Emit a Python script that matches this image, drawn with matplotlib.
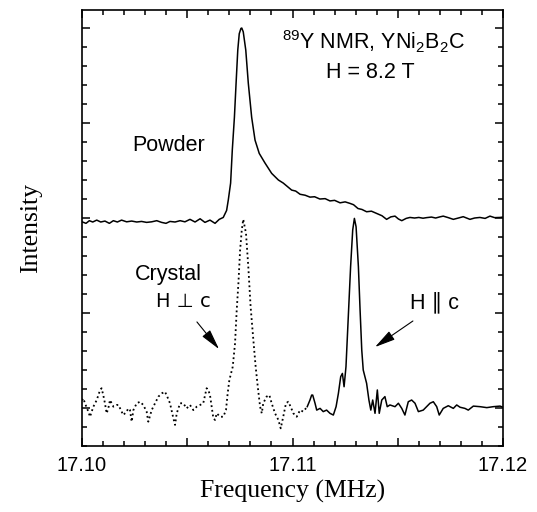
import numpy as np
import matplotlib
matplotlib.use("Agg")
import matplotlib.pyplot as plt
from matplotlib.ticker import MultipleLocator, FixedLocator

# 89Y NMR spectra, YNi2B2C, H = 8.2 T
# frequency offsets in kHz above 17.100 MHz, intensity in arbitrary units
powder_khz = [0.0, 0.19, 0.35, 0.51, 0.70, 0.89, 1.09, 1.30, 1.49, 1.68, 1.88, 2.12,
              2.36, 2.60, 2.83, 3.07, 3.31, 3.55, 3.78, 3.99, 4.18, 4.42, 4.66, 4.89,
              5.13, 5.37, 5.61, 5.84, 6.08, 6.32, 6.52, 6.71, 6.87, 6.95, 7.06, 7.14,
              7.24, 7.32, 7.40, 7.47, 7.55, 7.59, 7.66, 7.78, 7.90, 8.06, 8.22, 8.42,
              8.69, 9.01, 9.33, 9.56, 9.96, 10.15, 10.36, 10.6, 10.83, 11.05, 11.3, 11.55,
              11.78, 12.0, 12.26, 12.5, 12.73, 12.9, 13.11, 13.3, 13.52, 13.75, 14.0, 14.25,
              14.47, 14.67, 14.87, 15.03, 15.19, 15.4, 15.58, 15.8, 16.0, 16.2, 16.37, 16.6,
              16.8, 17.0, 17.16, 17.4, 17.64, 17.88, 18.11, 18.27, 18.43, 18.65, 18.90, 19.15,
              19.38, 19.6, 19.86, 20.0]
powder_int = [11.8, 11.72, 11.86, 11.79, 11.89, 11.79, 11.84, 11.72, 11.86, 11.79, 11.89, 11.80,
              11.84, 11.79, 11.82, 11.77, 11.80, 11.86, 11.77, 11.72, 11.82, 11.79, 11.86, 11.80,
              11.93, 11.79, 11.96, 11.77, 11.89, 11.72, 11.93, 12.03, 12.4, 12.95, 13.84, 15.58,
              17.3, 19.1, 20.84, 21.7, 21.98, 22.0, 21.8, 20.84, 19.1, 17.3, 16.1, 15.4,
              14.9, 14.35, 14.0, 13.84, 13.47, 13.42, 13.25, 13.2, 13.1, 13.12, 13.0, 13.02,
              12.9, 12.93, 12.8, 12.85, 12.77, 12.7, 12.5, 12.45, 12.33, 12.36, 12.24, 12.12,
              11.93, 12.06, 12.1, 11.95, 11.86, 11.98, 12.03, 12.0, 12.03, 11.99, 12.02, 12.05,
              12.0, 12.06, 12.1, 12.02, 11.93, 12.0, 12.07, 12.0, 11.93, 12.0, 12.03, 11.98,
              12.1, 12.02, 12.03, 12.05]

# single crystal, H perpendicular to c (dotted)
perp_khz = [0.0, 0.063, 0.14, 0.30, 0.38, 0.54, 0.70, 0.86, 0.93, 1.01, 1.09, 1.17,
            1.25, 1.33, 1.49, 1.65, 1.73, 1.81, 1.96, 2.12, 2.20, 2.28, 2.36, 2.44,
            2.60, 2.76, 2.91, 3.07, 3.15, 3.31, 3.47, 3.63, 3.79, 3.94, 4.05, 4.18,
            4.34, 4.42, 4.50, 4.66, 4.81, 4.97, 5.13, 5.29, 5.45, 5.61, 5.76, 5.92,
            6.00, 6.08, 6.16, 6.24, 6.32, 6.40, 6.56, 6.71, 6.84, 6.92, 7.0, 7.16,
            7.27, 7.35, 7.43, 7.51, 7.59, 7.66, 7.79, 7.90, 8.01, 8.14, 8.25, 8.35,
            8.46, 8.54, 8.61, 8.77, 8.9, 9.01, 9.17, 9.33, 9.44, 9.56, 9.69, 9.8,
            9.91, 10.04, 10.2, 10.36, 10.51, 10.7]
perp_int = [2.4, 2.51, 2.25, 1.81, 1.54, 2.07, 2.42, 2.95, 3.04, 2.68, 2.25, 1.72,
            1.98, 2.42, 2.07, 2.16, 2.16, 1.98, 1.63, 1.81, 1.98, 1.89, 1.28, 1.89,
            2.25, 2.33, 2.16, 1.81, 1.28, 1.89, 2.25, 2.6, 2.77, 2.86, 2.6, 2.25,
            1.46, 1.11, 1.72, 2.25, 2.25, 1.98, 2.16, 1.89, 2.07, 2.16, 2.25, 3.04,
            2.95, 2.68, 2.07, 1.46, 1.37, 1.72, 1.54, 1.54, 1.89, 2.77, 3.47, 4.17,
            5.4, 7.16, 8.56, 10.3, 11.37, 11.93, 11.2, 9.44, 7.33, 5.58, 4.17, 3.12,
            2.07, 1.72, 2.25, 2.6, 2.68, 2.25, 1.72, 1.37, 0.93, 1.54, 2.25, 2.33,
            2.07, 1.72, 1.54, 1.89, 1.81, 2.07]

# single crystal, H parallel to c (solid)
par_khz = [10.7, 10.83, 10.91, 10.96, 11.07, 11.15, 11.31, 11.46, 11.62, 11.78, 11.94, 12.07,
           12.18, 12.29, 12.37, 12.45, 12.54, 12.65, 12.76, 12.86, 12.94, 13.02, 13.13, 13.21,
           13.29, 13.36, 13.52, 13.63, 13.72, 13.81, 13.92, 14.03, 14.12, 14.24, 14.39, 14.5,
           14.63, 14.87, 15.03, 15.19, 15.34, 15.5, 15.66, 15.82, 15.98, 16.21, 16.37, 16.53,
           16.69, 16.85, 16.97, 17.16, 17.4, 17.64, 17.8, 17.96, 18.19, 18.35, 18.59, 18.91,
           19.23, 19.54, 19.86, 20.0]
par_int = [2.07, 2.42, 2.68, 2.68, 2.25, 1.89, 1.98, 1.81, 1.89, 1.72, 1.63, 2.07,
           2.77, 3.65, 3.82, 3.12, 4.17, 6.8, 9.44, 11.37, 11.98, 11.54, 9.44, 7.16,
           5.05, 4.0, 3.3, 2.42, 1.89, 2.42, 1.72, 2.95, 1.72, 2.42, 2.6, 2.07,
           2.16, 2.07, 2.25, 1.98, 1.63, 2.33, 2.42, 2.25, 1.81, 1.89, 2.07, 2.25,
           2.33, 2.07, 1.63, 1.98, 2.12, 1.98, 2.16, 2.04, 1.98, 1.89, 2.1, 2.07,
           2.02, 2.07, 2.1, 2.04]

f0 = 17.100
xticks = [17.10, 17.105, 17.11, 17.115, 17.12]
xticklabels = ["17.10", "", "17.11", "", "17.12"]

plt.rcParams['font.family'] = ['Liberation Sans', 'DejaVu Sans']
plt.rcParams['mathtext.fontset'] = 'custom'
plt.rcParams['mathtext.rm'] = 'Liberation Sans'

fig = plt.figure(figsize=(5.37, 5.12), dpi=100)
ax = fig.add_axes([0.1527, 0.1289, 0.784, 0.8516])

def freq(khz):
    return f0 + np.array(khz) / 1000.0

ax.plot(freq(powder_khz), powder_int, color='k', lw=1.1)
ax.plot(freq(perp_khz), perp_int, color='k', lw=1.3, ls=(0, (1, 1.6)))
ax.plot(freq(par_khz), par_int, color='k', lw=1.1)

ax.set_xlim(17.10, 17.12)
ax.set_ylim(0, 22.95)

ax.xaxis.set_major_locator(FixedLocator(xticks))
ax.set_xticklabels(xticklabels)
ax.xaxis.set_minor_locator(MultipleLocator(0.001))
ax.yaxis.set_major_locator(FixedLocator([2, 7, 12, 17, 22]))
ax.yaxis.set_minor_locator(MultipleLocator(1))
ax.set_yticklabels([])
ax.tick_params(which='both', direction='in', top=True, right=True, width=1.1)
ax.tick_params(which='major', length=6, labelsize=14.5, pad=7)
ax.tick_params(which='minor', length=3.5)
for s in ax.spines.values():
    s.set_linewidth(1.2)

ax.set_xlabel("Frequency (MHz)", family='Liberation Serif', fontsize=18.5, labelpad=4)
ax.set_ylabel("Intensity", family='Liberation Serif', fontsize=18.5, labelpad=22)

txt = dict(fontsize=15.5, ha='center', va='center')
ax.text(freq(13.82), 21.26, r'$^{89}$Y NMR, YNi$_2$B$_2$C', **txt)
ax.text(freq(13.68), 19.68, "H = 8.2 T", **txt)
ax.text(freq(4.13), 15.84, "Powder", **txt)
ax.text(freq(4.09), 9.05, "Crystal", **txt)
ax.text(freq(4.82), 7.58, "H \u22a5 c", family=['DejaVu Sans'], fontsize=14, ha='center', va='center')
ax.text(freq(16.75), 7.58, "H \u2225 c", family=['Liberation Sans', 'DejaVu Sans'], **txt)

arrow = dict(arrowstyle='-|>,head_length=0.9,head_width=0.22', color='k', lw=0.8,
             shrinkA=0, shrinkB=0, mutation_scale=14)
ax.annotate("", xy=(freq(6.51), 5.1), xytext=(freq(5.46), 6.53), arrowprops=arrow)
ax.annotate("", xy=(freq(13.92), 5.21), xytext=(freq(15.72), 6.58), arrowprops=arrow)

fig.savefig("out.png", dpi=100)
